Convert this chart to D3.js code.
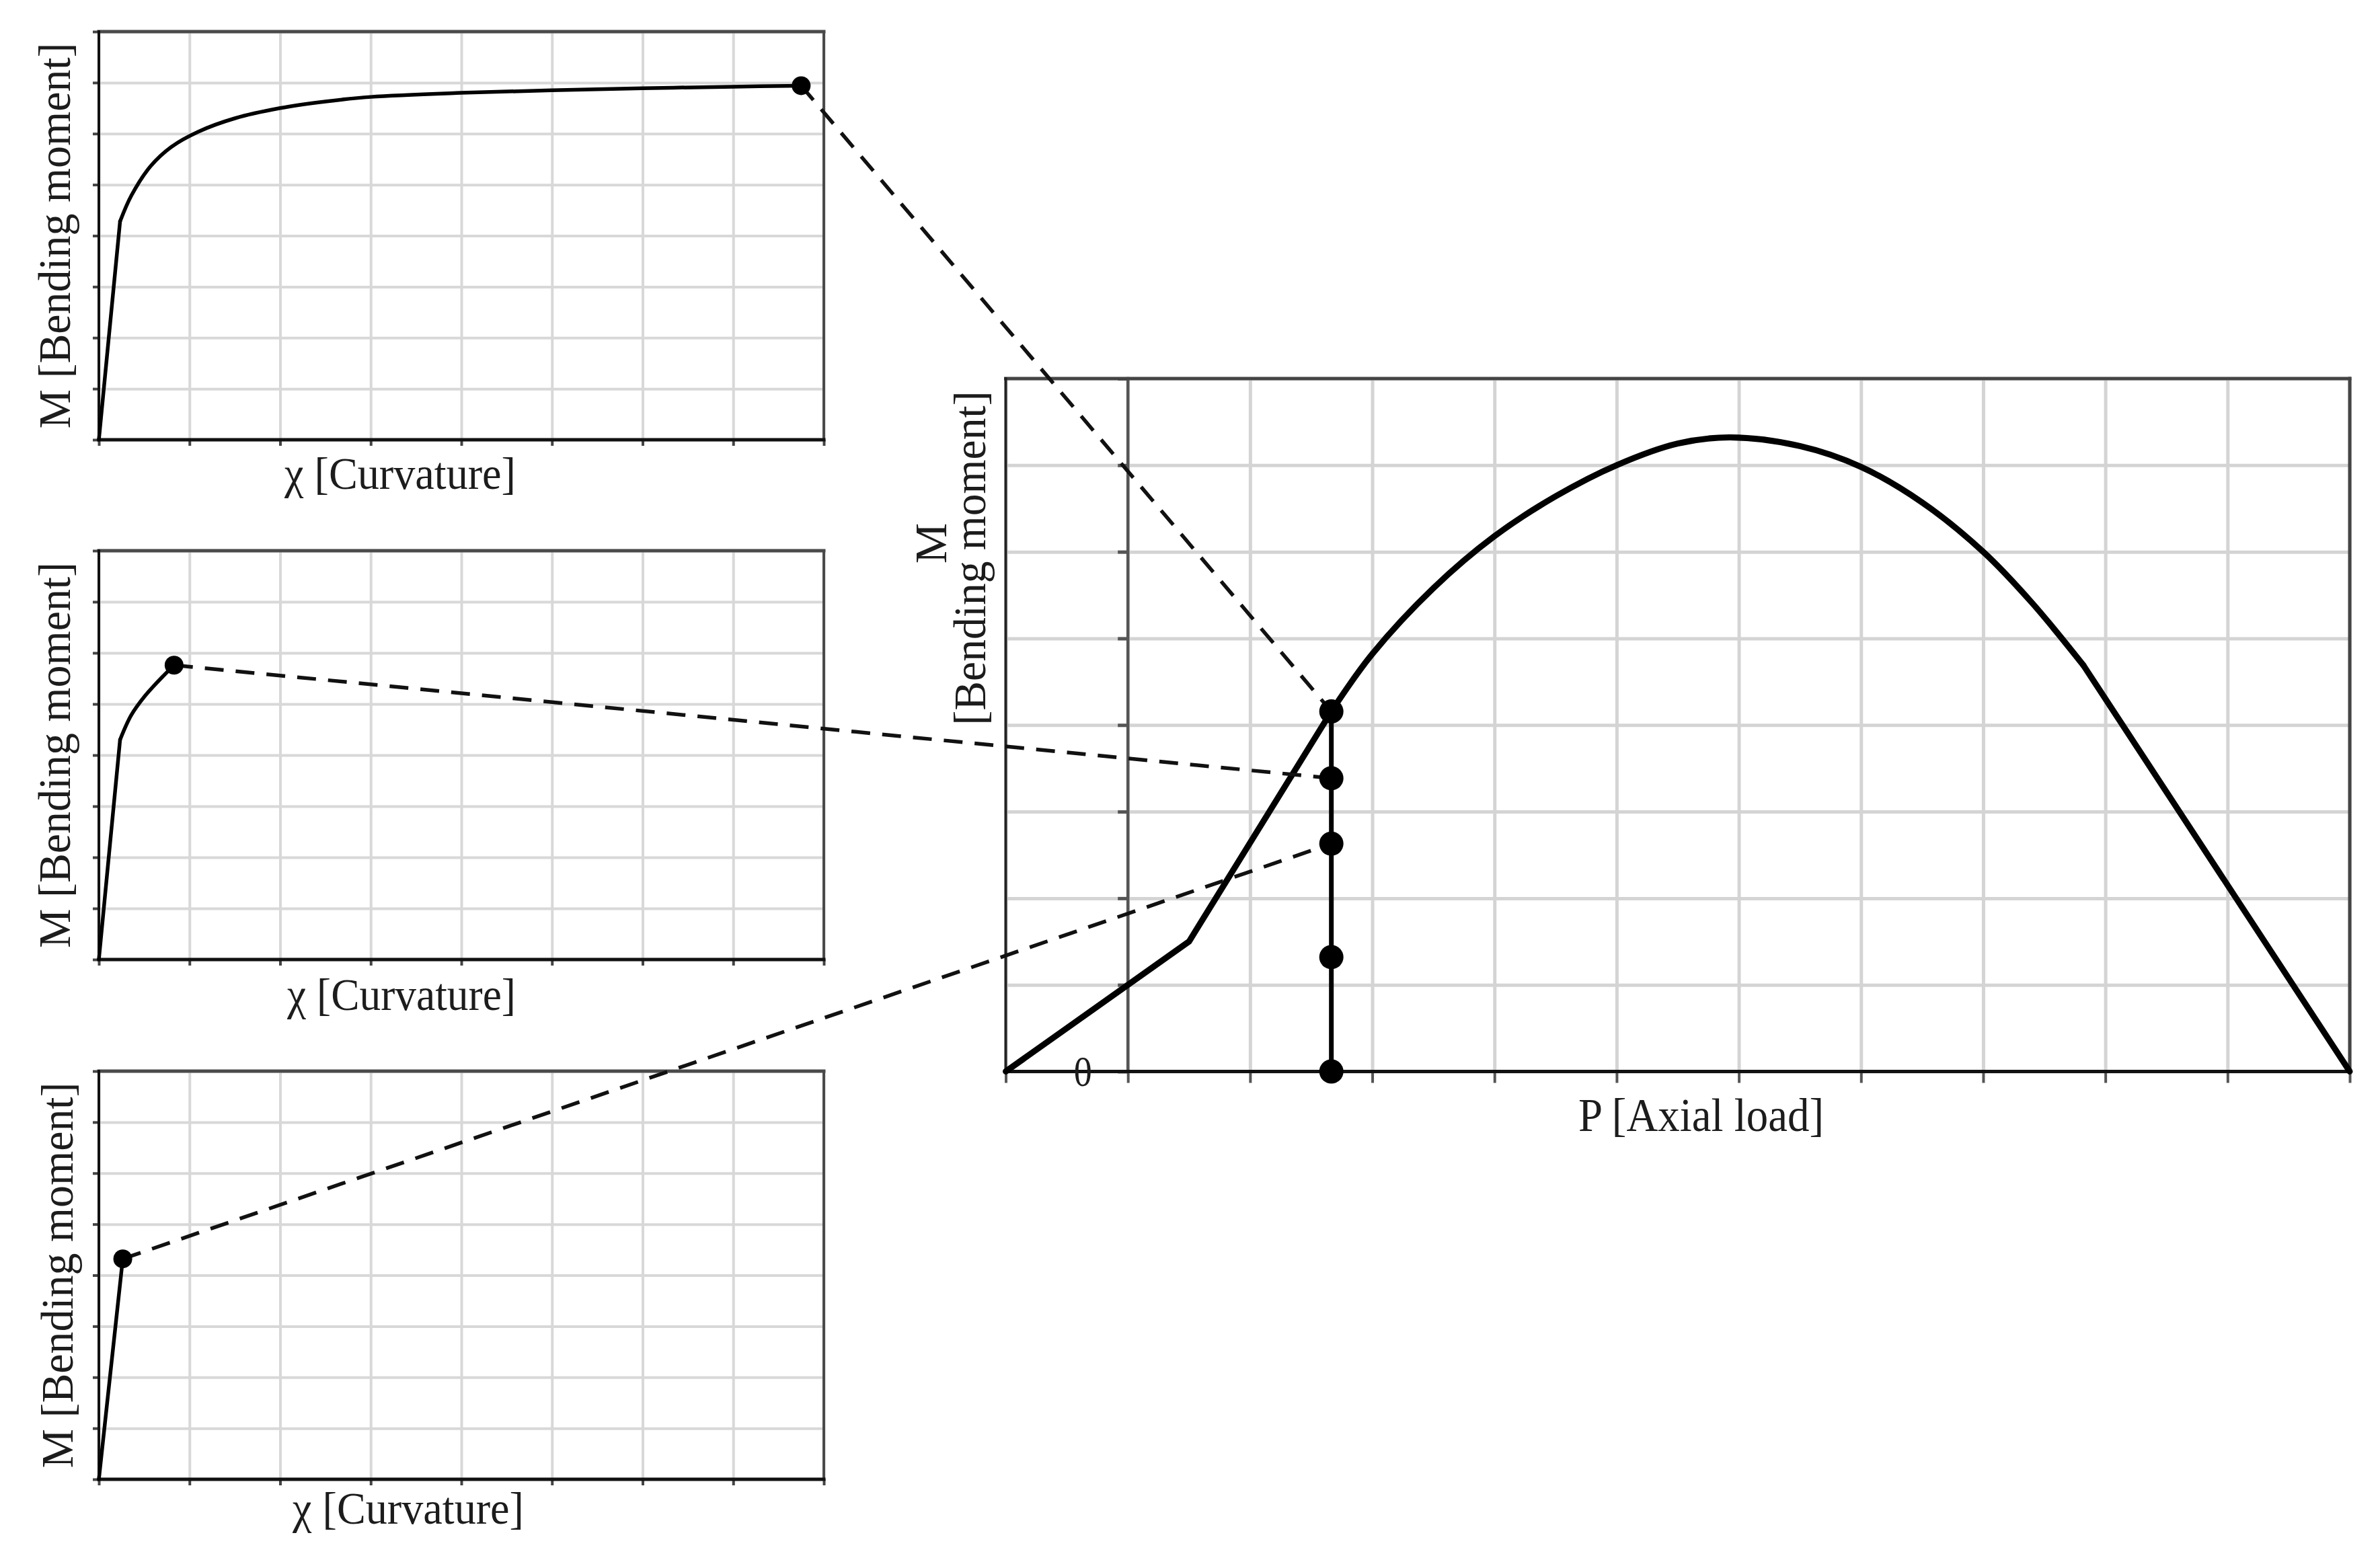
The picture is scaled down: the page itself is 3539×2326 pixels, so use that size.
<!DOCTYPE html>
<html><head><meta charset="utf-8">
<script src="https://cdn.jsdelivr.net/npm/d3@7"></script>
<style>html,body{margin:0;padding:0;background:#fff;} svg{display:block;}</style>
</head><body>
<script>
// ---------------- data (grid units) ----------------
const curvatureTicks = [0, 1, 2, 3, 4, 5, 6, 7, 8];
const momentTicks = [0, 1, 2, 3, 4, 5, 6, 7, 8];
const loadTicks = [-1, 0, 1, 2, 3, 4, 5, 6, 7, 8, 9, 10];
const mainMomentTicks = [0, 1, 2, 3, 4, 5, 6, 7, 8];

// moment-curvature curves of the three small panels (elastic branch + plastic branch)
const topElastic = [[0, 0], [0.234, 4.28]];
const topPlastic = [[0.234, 4.28], [0.36, 4.79], [0.57, 5.36], [0.8, 5.74], [1.1, 6.04], [1.5, 6.3],
  [2.0, 6.5], [2.5, 6.63], [3.0, 6.72], [4.0, 6.8], [5.0, 6.85], [6.0, 6.89], [7.0, 6.92], [7.75, 6.94]];
const midElastic = [[0, 0], [0.234, 4.30]];
const midPlastic = [[0.234, 4.30], [0.357, 4.78], [0.51, 5.16], [0.695, 5.52], [0.83, 5.76]];
const botElastic = [[0, 0], [0.264, 4.32]];
const botPlastic = [[0.264, 4.32]];

// axial load - bending moment interaction curve
const interactionLow = [[-1, 0], [0.5, 1.5], [1.665, 4.157]];
const interactionCurve = [[1.665, 4.157], [2.0, 4.82], [2.5, 5.58], [3.0, 6.18], [3.5, 6.64], [4.0, 7.0],
  [4.5, 7.25], [4.93, 7.32], [5.5, 7.22], [6.0, 6.98], [6.5, 6.57], [7.0, 6.0], [7.4, 5.41], [7.82, 4.69]];
const interactionHigh = [[7.82, 4.69], [10, 0]];

// section at constant axial load with its marked moments
const sectionLoad = 1.665;
const sectionMoments = [4.157, 3.385, 2.63, 1.32, 0];

const smallYLabel = "M [Bending moment]";
const smallXLabel = "\u03C7 [Curvature]";
const mainXLabel = "P [Axial load]";
const mainYLabel1 = "M";
const mainYLabel2 = "[Bending moment]";
const originLabel = "0";

// ---------------- drawing ----------------
const W = 3539, H = 2326;
const FONT = "'Liberation Serif','Times New Roman',serif";
const TXT = "#1c1c1c";
const svg = d3.select("body").append("svg").attr("width", W).attr("height", H);
svg.append("rect").attr("width", W).attr("height", H).attr("fill", "#fff");

function styleAxis(sel, color, width) {
  sel.selectAll(".tick line").attr("stroke", color).attr("stroke-width", width);
  sel.selectAll(".domain").remove();
}
function hline(g, x1, x2, y, color, w) {
  g.append("line").attr("x1", x1).attr("x2", x2).attr("y1", y).attr("y2", y)
    .attr("stroke", color).attr("stroke-width", w).attr("stroke-linecap", "square");
}
function vline(g, x, y1, y2, color, w) {
  g.append("line").attr("x1", x).attr("x2", x).attr("y1", y1).attr("y2", y2)
    .attr("stroke", color).attr("stroke-width", w).attr("stroke-linecap", "square");
}

const gridLayer = svg.append("g");
const frameLayer = svg.append("g");
const curveLayer = svg.append("g");
const dashLayer = svg.append("g");
const dotLayer = svg.append("g");
const textLayer = svg.append("g");

// ---- small panels ----
const smallLeft = 147, smallRight = 1225;
const panels = [
  { top: 47, bottom: 654, elastic: topElastic, plastic: topPlastic, link: 0, labBase: 104, xlab: [423, 344, 727] },
  { top: 819, bottom: 1427, elastic: midElastic, plastic: midPlastic, link: 1, labBase: 104, xlab: [427, 340, 1502] },
  { top: 1593, bottom: 2200, elastic: botElastic, plastic: botPlastic, link: 2, labBase: 108, xlab: [435, 344, 2266] }
];

// ---- main panel scales ----
const mLeft = 1495.5, mRight = 3494, mTop = 563, mBottom = 1593.5;
const xMain = d3.scaleLinear().domain([-1, 10]).range([mLeft, mRight]);
const yMain = d3.scaleLinear().domain([0, 8]).range([mBottom, mTop]);

panels.forEach(p => {
  const x = d3.scaleLinear().domain([0, 8]).range([smallLeft, smallRight]);
  const y = d3.scaleLinear().domain([0, 8]).range([p.bottom, p.top]);
  const h = p.bottom - p.top, w = smallRight - smallLeft;
  // grid
  gridLayer.append("g").attr("transform", `translate(0,${p.bottom})`)
    .call(d3.axisBottom(x).tickValues(curvatureTicks).tickSize(-h).tickFormat(""))
    .call(s => styleAxis(s, "#d8d8d8", 4));
  gridLayer.append("g").attr("transform", `translate(${smallLeft},0)`)
    .call(d3.axisLeft(y).tickValues(momentTicks).tickSize(-w).tickFormat(""))
    .call(s => styleAxis(s, "#d8d8d8", 4));
  // ticks
  frameLayer.append("g").attr("transform", `translate(0,${p.bottom})`)
    .call(d3.axisBottom(x).tickValues(curvatureTicks).tickSize(9).tickFormat(""))
    .call(s => styleAxis(s, "#444", 4));
  frameLayer.append("g").attr("transform", `translate(${smallLeft},0)`)
    .call(d3.axisLeft(y).tickValues(momentTicks).tickSize(9).tickFormat(""))
    .call(s => styleAxis(s, "#444", 4));
  // frame
  hline(frameLayer, smallLeft, smallRight, p.top, "#4a4a4a", 5);
  vline(frameLayer, smallRight, p.top, p.bottom, "#4a4a4a", 4);
  vline(frameLayer, smallLeft, p.top, p.bottom, "#111", 4);
  hline(frameLayer, smallLeft, smallRight, p.bottom, "#111", 5);

  // curves
  const lin = d3.line().x(d => x(d[0])).y(d => y(d[1]));
  const smooth = d3.line().x(d => x(d[0])).y(d => y(d[1])).curve(d3.curveCatmullRom.alpha(0.5));
  curveLayer.append("path").attr("d", lin(p.elastic)).attr("fill", "none")
    .attr("stroke", "#000").attr("stroke-width", 5.5).attr("stroke-linejoin", "round").attr("stroke-linecap", "round");
  if (p.plastic.length > 1) {
    curveLayer.append("path").attr("d", smooth(p.plastic)).attr("fill", "none")
      .attr("stroke", "#000").attr("stroke-width", 5.5).attr("stroke-linejoin", "round").attr("stroke-linecap", "round");
  }
  const end = p.plastic[p.plastic.length - 1];
  // dashed connector to the interaction diagram
  dashLayer.append("line")
    .attr("x1", x(end[0])).attr("y1", y(end[1]))
    .attr("x2", xMain(sectionLoad)).attr("y2", yMain(sectionMoments[p.link]))
    .attr("stroke", "#111").attr("stroke-width", 5.5).attr("stroke-dasharray", "28,18");
  dotLayer.append("circle").attr("cx", x(end[0])).attr("cy", y(end[1])).attr("r", 14).attr("fill", "#000");

  // labels
  textLayer.append("text")
    .attr("transform", `translate(${p.labBase},${(p.top + p.bottom) / 2}) rotate(-90)`)
    .attr("text-anchor", "middle").attr("font-family", FONT).attr("font-size", 67)
    .attr("fill", TXT).attr("textLength", 574).attr("lengthAdjust", "spacingAndGlyphs")
    .text(smallYLabel);
  textLayer.append("text")
    .attr("x", p.xlab[0]).attr("y", p.xlab[2])
    .attr("font-family", FONT).attr("font-size", 68).attr("fill", TXT)
    .attr("textLength", p.xlab[1]).attr("lengthAdjust", "spacingAndGlyphs")
    .text(smallXLabel);
});

// ---- main panel ----
const mw = mRight - mLeft, mh = mBottom - mTop;
gridLayer.append("g").attr("transform", `translate(0,${mBottom})`)
  .call(d3.axisBottom(xMain).tickValues(loadTicks).tickSize(-mh).tickFormat(""))
  .call(s => styleAxis(s, "#d4d4d4", 5));
gridLayer.append("g").attr("transform", `translate(${mLeft},0)`)
  .call(d3.axisLeft(yMain).tickValues(mainMomentTicks).tickSize(-mw).tickFormat(""))
  .call(s => styleAxis(s, "#d4d4d4", 5));
// bottom ticks
frameLayer.append("g").attr("transform", `translate(0,${mBottom})`)
  .call(d3.axisBottom(xMain).tickValues(loadTicks).tickSize(17).tickFormat(""))
  .call(s => styleAxis(s, "#555", 4));
// y axis at P = 0 with ticks
frameLayer.append("g").attr("transform", `translate(${xMain(0)},0)`)
  .call(d3.axisLeft(yMain).tickValues(mainMomentTicks).tickSize(15).tickFormat(""))
  .call(s => styleAxis(s, "#555", 5));
vline(frameLayer, xMain(0), mTop, mBottom, "#555", 4.5);
// frame
hline(frameLayer, mLeft, mRight, mTop, "#444", 5);
vline(frameLayer, mRight, mTop, mBottom, "#444", 5);
vline(frameLayer, mLeft, mTop, mBottom, "#222", 4);
hline(frameLayer, mLeft, mRight, mBottom, "#111", 5);

const linM = d3.line().x(d => xMain(d[0])).y(d => yMain(d[1]));
const smoothM = d3.line().x(d => xMain(d[0])).y(d => yMain(d[1])).curve(d3.curveCatmullRom.alpha(0.5));
[linM(interactionLow), smoothM(interactionCurve), linM(interactionHigh)].forEach(dd => {
  curveLayer.append("path").attr("d", dd).attr("fill", "none").attr("stroke", "#000")
    .attr("stroke-width", 9).attr("stroke-linejoin", "round").attr("stroke-linecap", "round");
});
// vertical section line
curveLayer.append("line")
  .attr("x1", xMain(sectionLoad)).attr("x2", xMain(sectionLoad))
  .attr("y1", yMain(d3.min(sectionMoments))).attr("y2", yMain(d3.max(sectionMoments)))
  .attr("stroke", "#000").attr("stroke-width", 7);
dotLayer.selectAll("circle.sec").data(sectionMoments).join("circle")
  .attr("class", "sec").attr("cx", xMain(sectionLoad)).attr("cy", d => yMain(d))
  .attr("r", 18).attr("fill", "#000");

// main labels
textLayer.append("text")
  .attr("x", (2347 + 2712) / 2).attr("y", 1682).attr("text-anchor", "middle")
  .attr("font-family", FONT).attr("font-size", 69).attr("fill", TXT)
  .attr("textLength", 365).attr("lengthAdjust", "spacingAndGlyphs").text(mainXLabel);
textLayer.append("text")
  .attr("x", xMain(0) - 67).attr("y", yMain(0) + 21).attr("text-anchor", "middle")
  .attr("font-family", FONT).attr("font-size", 64).attr("fill", TXT)
  .attr("textLength", 27).attr("lengthAdjust", "spacingAndGlyphs").text(originLabel);
textLayer.append("text")
  .attr("transform", `translate(1407,808) rotate(-90)`).attr("text-anchor", "middle")
  .attr("font-family", FONT).attr("font-size", 68).attr("fill", TXT).text(mainYLabel1);
textLayer.append("text")
  .attr("transform", `translate(1465,830) rotate(-90)`).attr("text-anchor", "middle")
  .attr("font-family", FONT).attr("font-size", 68).attr("fill", TXT)
  .attr("textLength", 497).attr("lengthAdjust", "spacingAndGlyphs").text(mainYLabel2);
</script>
</body></html>
